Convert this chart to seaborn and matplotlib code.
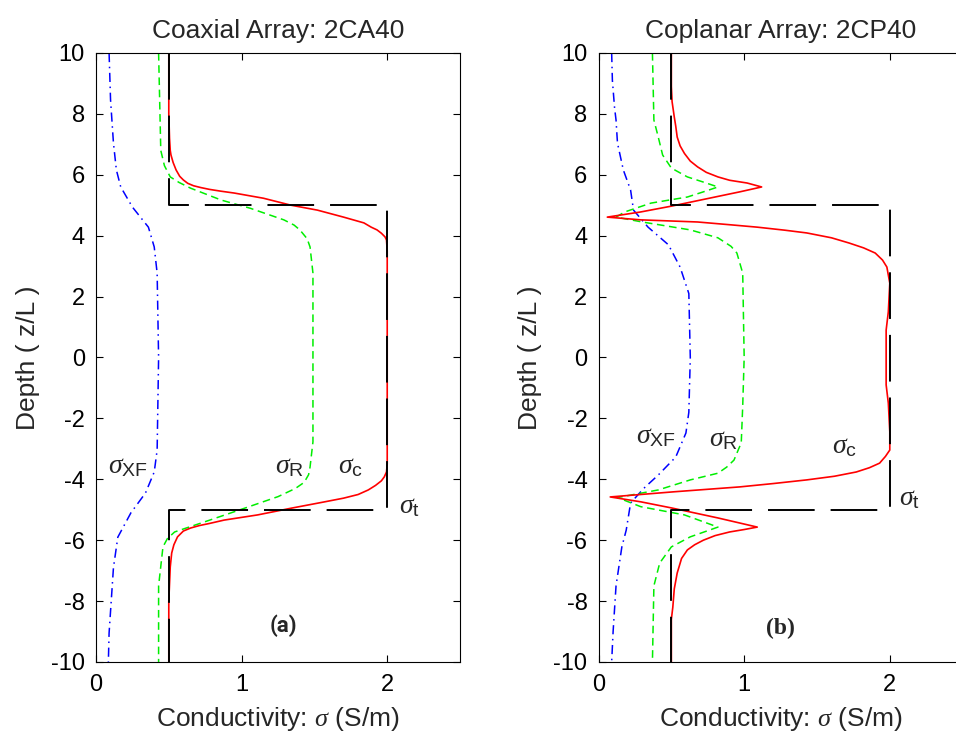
import numpy as np
import pandas as pd
import matplotlib
matplotlib.use("Agg")
import matplotlib.pyplot as plt
import seaborn as sns

# ---- data ----
# true model (sigma_t)
true_depth = [10, 5, 5, -5, -5, -10]
true_sigma = [0.5, 0.5, 2.0, 2.0, 0.5, 0.5]

# (a) coaxial array 2CA40
ca_c_depth = [10, 8, 7.2, 6.8, 6.65, 6.4, 6.16, 5.95, 5.83, 5.72, 5.64, 5.58, 5.52, 5.46,
              5.40, 5.23, 5.0, 4.84, 4.61, 4.42, 4.28, 4.19, 4.08, 3.96, 3.86, 3.5, 0,
              -3.5, -3.76, -3.92, -4.05, -4.2, -4.35, -4.5, -4.62, -4.75, -4.95, -5.17,
              -5.34, -5.45, -5.52, -5.6, -5.7, -5.89, -6.15, -6.42, -6.88, -8, -10]
ca_c_sigma = [0.5, 0.5, 0.505, 0.51, 0.515, 0.53, 0.55, 0.575, 0.60, 0.63, 0.67, 0.72, 0.78,
              0.86, 0.95, 1.15, 1.34, 1.52, 1.70, 1.84, 1.89, 1.93, 1.96, 1.985, 1.995, 2.0, 2.0,
              2.0, 1.995, 1.98, 1.96, 1.92, 1.87, 1.80, 1.70, 1.56, 1.34, 1.11, 0.88, 0.78,
              0.71, 0.65, 0.60, 0.56, 0.535, 0.52, 0.51, 0.5, 0.5]

ca_r_depth = [10, 6.8, 6.3, 5.93, 5.75, 5.56, 5.17, 4.9, 4.52, 4.35, 4.19, 3.9, 3.63, 2.77, 0,
              -2.77, -3.6, -3.85, -4.1, -4.3, -4.57, -5.0, -5.44, -5.6, -5.73, -5.95, -6.22,
              -7.5, -10]
ca_r_sigma = [0.43, 0.445, 0.47, 0.51, 0.57, 0.65, 0.86, 1.06, 1.29, 1.36, 1.40, 1.45, 1.47,
              1.49, 1.49, 1.49, 1.47, 1.46, 1.43, 1.37, 1.25, 0.99, 0.72, 0.62, 0.54, 0.49,
              0.46, 0.43, 0.43]

ca_xf_depth = [10, 8.46, 7.04, 6.16, 5.6, 4.94, 4.28, 3.63, 2.77, 0,
               -3.04, -3.76, -4.45, -5.1, -5.9, -6.9, -9.05, -10]
ca_xf_sigma = [0.09, 0.10, 0.12, 0.14, 0.17, 0.25, 0.36, 0.40, 0.42, 0.43,
               0.42, 0.40, 0.34, 0.24, 0.15, 0.12, 0.09, 0.085]

# (b) coplanar array 2CP40
cp_c_depth = [10, 8.9, 8.4, 7.9, 7.6, 7.24, 6.95, 6.7, 6.45, 6.26, 6.08, 5.93, 5.82, 5.73,
              5.6, 5.44, 5.17, 4.97, 4.78, 4.61, 4.52, 4.45, 4.36, 4.28, 4.18, 4.09, 3.93,
              3.76, 3.6, 3.43, 3.2, 2.97, 2.44, 1.5, 0.9, 0.0, -0.9, -1.5, -2.44, -3.04,
              -3.25, -3.47, -3.62, -3.76, -3.9, -4.02, -4.14, -4.25, -4.41, -4.58, -4.74,
              -4.94, -5.27, -5.57, -5.65, -5.73, -5.85, -6.0, -6.15, -6.32, -6.6, -7.08,
              -7.6, -8.2, -8.6, -10]
cp_c_sigma = [0.5, 0.5, 0.505, 0.52, 0.53, 0.54, 0.56, 0.59, 0.63, 0.68, 0.74, 0.82, 0.90,
              1.02, 1.12, 0.97, 0.70, 0.50, 0.29, 0.06, 0.29, 0.68, 0.90, 1.09, 1.28, 1.43,
              1.60, 1.72, 1.82, 1.90, 1.95, 1.98, 2.0, 1.99, 1.975, 1.975, 1.975, 1.99, 2.0,
              2.0, 1.97, 1.93, 1.86, 1.77, 1.62, 1.43, 1.20, 0.97, 0.52, 0.08, 0.29, 0.5,
              0.82, 1.09, 1.0, 0.90, 0.80, 0.72, 0.66, 0.61, 0.57, 0.54, 0.52, 0.51, 0.5, 0.5]

cp_r_depth = [10, 7.8, 7.24, 6.65, 6.22, 5.93, 5.76, 5.6, 5.44, 5.27, 5.07, 4.78, 4.61,
              4.45, 4.19, 3.93, 3.65, 3.43, 2.77, 0, -1.6, -2.8, -3.37, -3.6, -3.8, -4.02,
              -4.35, -4.6, -4.9, -5.17, -5.57, -5.89, -6.22, -6.75, -7.5, -10]
cp_r_sigma = [0.37, 0.38, 0.41, 0.44, 0.50, 0.61, 0.72, 0.82, 0.72, 0.61, 0.36, 0.18, 0.12,
              0.30, 0.63, 0.82, 0.91, 0.95, 0.99, 1.0, 0.99, 0.98, 0.93, 0.88, 0.82, 0.63,
              0.41, 0.13, 0.29, 0.59, 0.82, 0.63, 0.50, 0.42, 0.38, 0.37]

cp_xf_depth = [10, 9.1, 8.2, 7.8, 7.04, 6.16, 5.5, 4.84, 4.28, 3.7, 2.97, 2.1, 0,
               -1.8, -2.48, -3.27, -3.86, -4.3, -4.78, -5.67, -6.22, -7.5, -9.0, -10]
cp_xf_sigma = [0.09, 0.095, 0.11, 0.12, 0.13, 0.17, 0.22, 0.24, 0.34, 0.48, 0.56, 0.62, 0.63,
               0.62, 0.60, 0.53, 0.41, 0.31, 0.22, 0.19, 0.16, 0.12, 0.10, 0.09]

titles = ["Coaxial Array: 2CA40", "Coplanar Array: 2CP40"]
panel_tags = ["(a)", "(b)"]
x_ticks = [0, 1, 2]
y_ticks = list(range(-10, 11, 2))

# ---- style ----
sns.set_style("ticks")
plt.rcParams["font.family"] = ["Liberation Sans", "DejaVu Sans"]
plt.rcParams["mathtext.fontset"] = "custom"
plt.rcParams["mathtext.rm"] = "Liberation Sans"
plt.rcParams["mathtext.it"] = "Liberation Serif:italic"
plt.rcParams["axes.unicode_minus"] = False

fig = plt.figure(figsize=(9.56, 7.38), dpi=100)
ax_a = fig.add_axes([0.1004, 0.1030, 0.3808, 0.8252])
ax_b = fig.add_axes([0.6261, 0.1030, 0.3808, 0.8252])

panels = [
    (ax_a, ca_c_sigma, ca_c_depth, ca_r_sigma, ca_r_depth, ca_xf_sigma, ca_xf_depth),
    (ax_b, cp_c_sigma, cp_c_depth, cp_r_sigma, cp_r_depth, cp_xf_sigma, cp_xf_depth),
]

for i, (ax, cs, cd, rs, rd, xs, xd) in enumerate(panels):
    sns.lineplot(x=xs, y=xd, ax=ax, sort=False, estimator=None, color="#0000ff",
                 lw=1.1, linestyle=(0, (6, 3, 1, 3)))
    sns.lineplot(x=rs, y=rd, ax=ax, sort=False, estimator=None, color="#00ee00",
                 lw=1.1, linestyle=(0, (5, 3)))
    sns.lineplot(x=cs, y=cd, ax=ax, sort=False, estimator=None, color="#ff0000", lw=1.2)
    sns.lineplot(x=true_sigma, y=true_depth, ax=ax, sort=False, estimator=None,
                 color="black", lw=1.4, linestyle=(0, (24, 8.2)))

    ax.set_xlim(0, 2.5)
    ax.set_ylim(-10, 10)
    ax.set_xticks(x_ticks)
    ax.set_yticks(y_ticks)
    ax.tick_params(direction="in", length=5, width=0.8, labelsize=17,
                   top=True, right=True, colors="black")
    ax.tick_params(axis="x", pad=9)
    ax.tick_params(axis="y", pad=8)
    for s in ax.spines.values():
        s.set_linewidth(0.8)
        s.set_color("black")
    ax.set_title(titles[i], fontsize=19, pad=11)
    ax.set_xlabel(r"Conductivity: $\sigma$ (S/m)", fontsize=19, labelpad=6)
    ax.set_ylabel("Depth ( z/L )", fontsize=19, labelpad=8)

lab_kw = dict(fontsize=20, ha="left", va="baseline")
ax_a.text(0.08, -3.8, r"$\sigma_{\rm XF}$", **lab_kw)
ax_a.text(1.23, -3.8, r"$\sigma_{\rm R}$", **lab_kw)
ax_a.text(1.66, -3.8, r"$\sigma_{\rm c}$", **lab_kw)
ax_a.text(2.08, -5.1, r"$\sigma_{\rm t}$", **lab_kw)
ax_a.text(1.29, -8.82, panel_tags[0], fontsize=16, fontweight="bold",
          family=["Roboto", "DejaVu Sans"], ha="center", va="center")

ax_b.text(0.26, -2.8, r"$\sigma_{\rm XF}$", **lab_kw)
ax_b.text(0.76, -2.9, r"$\sigma_{\rm R}$", **lab_kw)
ax_b.text(1.60, -3.15, r"$\sigma_{\rm c}$", **lab_kw)
ax_b.text(2.06, -4.85, r"$\sigma_{\rm t}$", **lab_kw)
ax_b.text(1.25, -8.9, panel_tags[1], fontsize=17, fontweight="bold",
          family=["Liberation Serif", "DejaVu Serif"], ha="center", va="center")

fig.savefig("out.png", dpi=100)
